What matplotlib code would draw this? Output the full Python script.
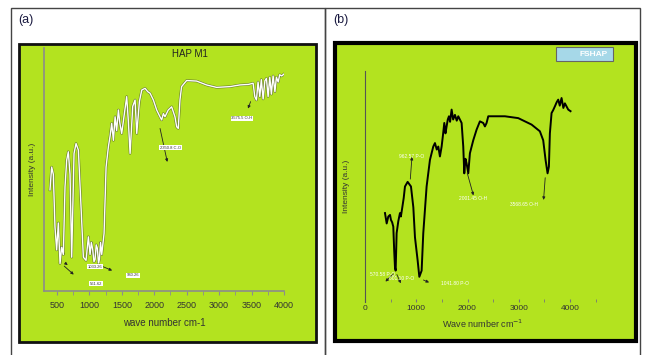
import matplotlib
matplotlib.use("Agg")
import matplotlib.pyplot as plt
from matplotlib.patches import Rectangle
import matplotlib.patheffects as pe

plt.rcParams['font.family'] = ['Liberation Sans', 'DejaVu Sans']

# ---------------- data (a) HAP M1 ----------------
wn_a = [392, 418, 444, 469, 495, 521, 547, 572, 598, 624, 650, 675, 701, 727, 763,
        794, 830, 866, 907, 948, 984, 1010, 1030, 1051, 1070, 1087, 1105, 1123, 1140,
        1154, 1172, 1190, 1226, 1257, 1293, 1320, 1344, 1370, 1396, 1420, 1447, 1470,
        1498, 1534, 1575, 1600, 1627, 1668, 1704, 1730, 1771, 1807, 1858, 1900, 1935,
        1986, 2037, 2088, 2114, 2140, 2165, 2216, 2268, 2319, 2345, 2370, 2396, 2421,
        2498, 2652, 2806, 2960, 3165, 3319, 3450, 3524, 3550, 3575, 3600, 3627, 3650,
        3678, 3705, 3729, 3755, 3781, 3805, 3832, 3860, 3883, 3910, 3934, 3965, 4000]
int_a = [41.6, 51.0, 48.0, 26.5, 16.9, 28.0, 11.3, 18.0, 15.0, 42.9, 53.9, 57.3, 48.0,
         13.9, 56.6, 60.7, 58.0, 37.4, 13.9, 12.6, 22.3, 15.0, 20.0, 17.0, 12.0, 13.0,
         19.0, 17.5, 11.5, 13.0, 20.0, 15.0, 23.7, 51.0, 59.4, 64.0, 69.0, 62.0, 71.7,
         66.0, 74.5, 69.0, 64.8, 72.0, 80.0, 70.0, 56.6, 76.0, 78.6, 64.8, 78.0, 82.7,
         83.4, 82.0, 81.4, 78.6, 74.5, 71.7, 70.4, 73.0, 71.7, 74.5, 75.8, 71.7, 67.6,
         66.9, 78.6, 84.1, 86.6, 86.4, 84.8, 83.8, 84.1, 84.8, 85.0, 85.5, 80.0, 78.6,
         86.0, 80.0, 87.0, 79.0, 86.5, 87.5, 80.0, 88.0, 81.0, 88.5, 82.0, 88.0, 86.0,
         89.0, 88.5, 89.3]

# ---------------- data (b) FSHAP ----------------
wn_b = [390, 423, 455, 488, 507, 530, 552, 570, 585, 598, 617, 650, 682, 700, 728,
        755, 780, 832, 897, 943, 975, 1027, 1060, 1105, 1137, 1202, 1267, 1332, 1365,
        1400, 1430, 1462, 1495, 1520, 1547, 1570, 1592, 1615, 1638, 1660, 1690, 1720,
        1755, 1790, 1820, 1885, 1917, 1937, 1960, 1982, 2015, 2047, 2112, 2177, 2242,
        2307, 2340, 2372, 2405, 2730, 2990, 3250, 3412, 3477, 3523, 3562, 3588, 3607,
        3640, 3670, 3705, 3740, 3770, 3800, 3835, 3870, 3900, 3965, 4010]
int_b = [38.5, 34.0, 37.0, 37.7, 35.5, 34.5, 32.6, 22.0, 15.0, 13.6, 29.8, 35.0, 38.5,
         37.0, 41.0, 45.0, 50.0, 52.0, 50.0, 41.0, 28.0, 18.0, 10.9, 13.6, 29.8, 50.0,
         61.5, 67.3, 68.8, 66.0, 67.3, 63.0, 67.3, 72.0, 77.5, 73.0, 76.0, 79.0, 80.4,
         78.0, 83.3, 79.0, 81.0, 78.5, 80.4, 77.5, 67.3, 55.7, 62.0, 60.0, 55.7, 64.4,
         70.0, 74.6, 78.2, 77.5, 76.0, 77.5, 80.4, 80.4, 79.6, 76.8, 73.9, 70.0, 61.5,
         55.7, 58.6, 73.0, 81.8, 83.0, 84.7, 86.5, 87.6, 85.0, 88.3, 84.0, 86.0, 83.3,
         82.6]

W, H = 645, 355
fig = plt.figure(figsize=(6.45, 3.55), dpi=100)
fig.patch.set_facecolor('white')

def fx(px):
    return px / W

def fy(py):
    return 1 - py / H

green = '#b3e31f'

# outer cell borders
for (x0, x1) in [(11, 325), (325, 640)]:
    fig.add_artist(Rectangle((fx(x0), fy(356)), fx(x1 - x0), (356 - 8) / H,
                             transform=fig.transFigure, fill=False,
                             edgecolor='#444444', linewidth=1.0, zorder=-10))

# green backgrounds
fig.add_artist(Rectangle((fx(19), fy(342)), fx(316 - 19), (342 - 44) / H,
                         transform=fig.transFigure, facecolor=green,
                         edgecolor='#111111', linewidth=2.0, zorder=-10))
fig.add_artist(Rectangle((fx(335), fy(341)), fx(636 - 335), (341 - 43) / H,
                         transform=fig.transFigure, facecolor=green,
                         edgecolor='#000000', linewidth=3.0, zorder=-10))

fig.text(fx(18), fy(20), '(a)', fontsize=9, color='#1a1a40', va='center')
fig.text(fx(333), fy(20), '(b)', fontsize=9, color='#1a1a40', va='center')

# ---------------- axes (a) ----------------
axa = fig.add_axes([fx(44), fy(291), fx(284 - 44), (291 - 48) / H])
axa.patch.set_alpha(0)
axa.set_xlim(300, 4000)
axa.set_ylim(0, 100)
for s in ['top', 'right']:
    axa.spines[s].set_visible(False)
for s in ['left', 'bottom']:
    axa.spines[s].set_color('#8c8c8c')
    axa.spines[s].set_linewidth(1.2)
axa.set_xticks([500, 1000, 1500, 2000, 2500, 3000, 3500, 4000])
axa.set_xticklabels(['500', '1000', '1500', '2000', '2500', '3000', '3500', '4000'])
axa.set_xticks([750, 1250, 1750, 2250, 2750, 3250, 3750], minor=True)
axa.tick_params(axis='x', which='both', direction='out', length=3, color='#8c8c8c',
                labelsize=6.5, labelcolor='#333333', pad=4)
axa.set_yticks([])
axa.plot(wn_a, int_a, color='white', linewidth=1.0,
         path_effects=[pe.Stroke(linewidth=1.8, foreground='#333333', alpha=0.6), pe.Normal()])
axa.text(0.61, 0.975, 'HAP M1', transform=axa.transAxes, ha='center', va='center',
         fontsize=7, color='#222222')
axa.set_xlabel('wave number cm-1', fontsize=7, color='#333333', labelpad=6)
axa.set_ylabel('Intensity (a.u.)', fontsize=6, color='#333333', labelpad=6)

def box_label(ax, x, y, t):
    ax.text(x, y, t, fontsize=3, color='#333333', ha='center', va='center',
            bbox=dict(boxstyle='square,pad=0.15', facecolor='white', edgecolor='none'))

ar = dict(arrowstyle='-|>', color='#222222', lw=0.6, mutation_scale=4)
axa.annotate('', xy=(3430, 74), xytext=(3500, 79), arrowprops=ar)
box_label(axa, 3350, 71, '3575.5 O-H')
axa.annotate('', xy=(2210, 52), xytext=(2080, 68), arrowprops=ar)
box_label(axa, 2250, 59, '2350.8 C-O')
axa.annotate('', xy=(790, 6), xytext=(580, 11), arrowprops=ar)
axa.annotate('', xy=(700, 10), xytext=(600, 12), arrowprops=ar)
axa.annotate('', xy=(1390, 8), xytext=(1120, 11), arrowprops=ar)
box_label(axa, 1090, 10, '1033.26')
box_label(axa, 1670, 6.5, '960.26')
box_label(axa, 1100, 3, '561.62')

# ---------------- axes (b) ----------------
axb = fig.add_axes([fx(365), fy(302), fx(600 - 365), (302 - 71) / H])
axb.patch.set_alpha(0)
axb.set_xlim(0, 4585)
axb.set_ylim(0, 100)
for s in ['top', 'right', 'bottom']:
    axb.spines[s].set_visible(False)
axb.spines['left'].set_color('#555555')
axb.spines['left'].set_linewidth(0.8)
axb.set_xticks([0, 1000, 2000, 3000, 4000])
axb.set_xticklabels(['0', '1000', '2000', '3000', '4000'])
axb.set_xticks([500, 1500, 2500, 3500, 4500], minor=True)
axb.tick_params(axis='x', which='both', direction='in', length=2, color='#777777',
                labelsize=6, labelcolor='#333333', pad=2)
axb.set_yticks([])
axb.plot(wn_b, int_b, color='black', linewidth=1.4)
axb.set_xlabel('Wave number cm$^{-1}$', fontsize=6.5, color='#333333', labelpad=4)
axb.set_ylabel('Intensity (a.u.)', fontsize=6, color='#333333', labelpad=11)

def wlabel(ax, x, y, t):
    ax.text(x, y, t, fontsize=3.5, color='white', ha='center', va='center')

axb.annotate('', xy=(920, 64), xytext=(880, 52), arrowprops=ar)
wlabel(axb, 900, 63, '962.57 P-O')
axb.annotate('', xy=(2130, 45), xytext=(1980, 57), arrowprops=ar)
wlabel(axb, 2100, 45, '2001.45 O-H')
axb.annotate('', xy=(3480, 43), xytext=(3520, 55), arrowprops=ar)
wlabel(axb, 3110, 42, '3568.65 O-H')
axb.annotate('', xy=(360, 8), xytext=(590, 13), arrowprops=ar)
wlabel(axb, 350, 12, '570.58 P-O')
axb.annotate('', xy=(720, 7), xytext=(600, 13), arrowprops=ar)
wlabel(axb, 720, 10, '601.10 P-O')
axb.annotate('', xy=(1300, 8), xytext=(1090, 10), arrowprops=ar)
wlabel(axb, 1750, 8, '1041.80 P-O')

# legend box
fig.add_artist(Rectangle((fx(556), fy(61)), fx(613 - 556), (61 - 47) / H,
                         transform=fig.transFigure, facecolor='#a6d8e8',
                         edgecolor='#666666', linewidth=0.8))
fig.text(fx(608), fy(54), 'FSHAP', fontsize=6, color='white', ha='right', va='center',
         fontweight='bold')

fig.savefig('out.png', dpi=100, facecolor='white')
